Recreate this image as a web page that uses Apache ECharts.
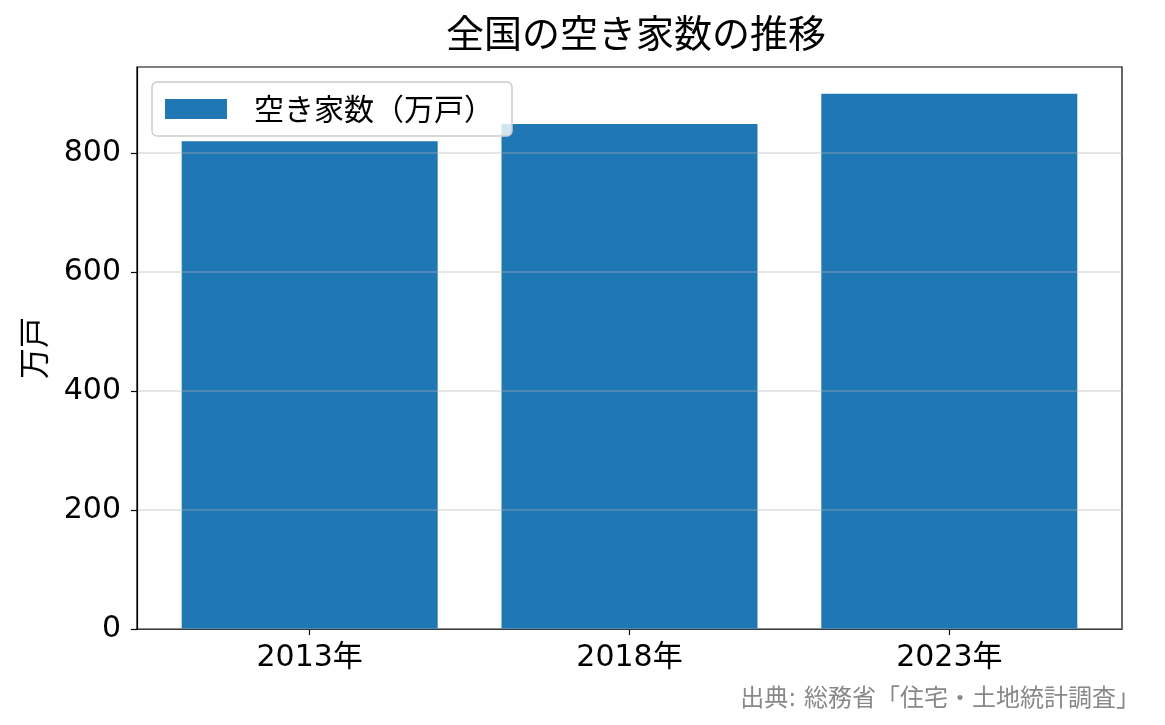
<!DOCTYPE html>
<html>
<head>
<meta charset="utf-8">
<script src="https://cdn.jsdelivr.net/npm/echarts@6/dist/echarts.min.js"></script>
<style>html,body{margin:0;padding:0;background:#fff;}#c{width:1165px;height:725px;}</style>
</head>
<body>
<div id="c"></div>
<script>
const categories = ['2013年', '2018年', '2023年'];
const vacantHomes = [820, 849, 900];
const yTicks = [0, 200, 400, 600, 800];
const titleText = '全国の空き家数の推移';
const seriesName = '空き家数（万戸）';
const yAxisName = '万戸';
const sourceText = '出典: 総務省「住宅・土地統計調査」';

const FONT = '"Noto Sans CJK JP", "Noto Sans", sans-serif';
const NUMFONT = '"DejaVu Sans", "Noto Sans CJK JP", sans-serif';
const chart = echarts.init(document.getElementById('c'));
chart.setOption({
  animation: false,
  backgroundColor: '#fff',
  textStyle: { fontFamily: FONT },
  title: [
    { text: titleText, left: 631, top: 9, textAlign: 'center',
      textStyle: { fontSize: 38, fontWeight: 'normal', color: '#000', fontFamily: FONT } },
    { text: sourceText, right: 20, top: 683,
      textStyle: { fontSize: 24, fontWeight: 'normal', color: '#888', fontFamily: NUMFONT } }
  ],
  legend: {
    left: 152, top: 82,
    padding: [12, 18, 12, 13],
    itemWidth: 62, itemHeight: 20, itemGap: 10,
    backgroundColor: 'rgba(255,255,255,0.8)',
    borderColor: '#ccc', borderWidth: 1.5, borderRadius: 5,
    textStyle: { fontSize: 30, color: '#000', fontFamily: FONT, padding: [0, 0, 0, 22] },
    data: [{ name: seriesName, icon: 'rect' }]
  },
  grid: { left: 137, right: 43, top: 67, bottom: 96, show: true, borderColor: '#000', borderWidth: 1.2, backgroundColor: 'transparent' },
  xAxis: {
    type: 'value', min: -0.54, max: 2.54,
    axisLine: { show: true, onZero: false, lineStyle: { color: '#000', width: 1.2 } },
    axisTick: { show: true, inside: false, length: 6, lineStyle: { color: '#000', width: 1.2 }, customValues: [0, 1, 2] },
    axisLabel: { customValues: [0, 1, 2], fontSize: 30, color: '#000', margin: 14, fontFamily: NUMFONT,
      formatter: v => categories[Math.round(v)] },
    splitLine: { show: false }
  },
  yAxis: {
    type: 'value', min: 0, max: 945, z: 3,
    name: yAxisName, nameLocation: 'middle', nameGap: 88, nameRotate: 90,
    nameTextStyle: { fontSize: 31, color: '#000', fontFamily: FONT },
    axisLine: { show: true, onZero: false, lineStyle: { color: '#000', width: 1.2 } },
    axisTick: { show: true, inside: false, length: 6, lineStyle: { color: '#000', width: 1.2 }, customValues: yTicks },
    axisLabel: { customValues: yTicks, fontSize: 30, color: '#000', margin: 16, fontFamily: NUMFONT },
    splitLine: { show: true, lineStyle: { color: 'rgba(176,176,176,0.32)', width: 2 } }
  },
  series: [{
    name: seriesName, type: 'bar',
    barWidth: 256,
    itemStyle: { color: '#1f77b4' },
    data: vacantHomes.map((v, i) => [i, v])
  }]
});
</script>
</body>
</html>
